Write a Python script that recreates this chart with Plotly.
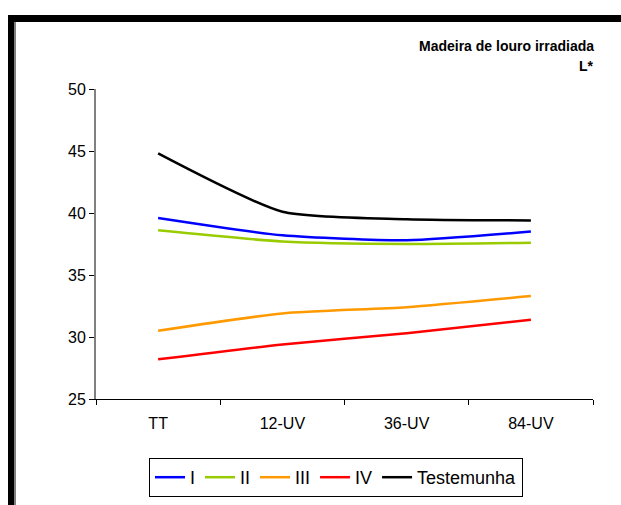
import plotly.graph_objects as go

categories = ["TT", "12-UV", "36-UV", "84-UV"]
serie_I = [39.6, 38.2, 37.8, 38.5]
serie_II = [38.6, 37.7, 37.5, 37.6]
serie_III = [30.5, 31.9, 32.4, 33.3]
serie_IV = [28.2, 29.4, 30.3, 31.4]
testemunha = [44.8, 40.1, 39.5, 39.4]
y_ticks = [25, 30, 35, 40, 45, 50]

names = ["I", "II", "III", "IV", "Testemunha"]
series = [serie_I, serie_II, serie_III, serie_IV, testemunha]
colors = ["#0000FF", "#99CC00", "#FF9900", "#FF0000", "#000000"]

W, H = 621, 505
L, R, T, B = 96, 28, 89, 106
pw, ph = W - L - R, H - T - B

def px_x(x):
    return (x - L) / pw

def px_y(y):
    return (H - B - y) / ph

fig = go.Figure()
for n, s, c in zip(names, series, colors):
    fig.add_trace(go.Scatter(x=categories, y=s, name=n, mode="lines",
                             line=dict(color=c, width=2.5, shape="spline", smoothing=0.6)))

font_family = "Liberation Sans, Arial, sans-serif"
fig.update_layout(
    width=W, height=H,
    margin=dict(l=L, r=R, t=T, b=B, autoexpand=False),
    paper_bgcolor="white", plot_bgcolor="white",
    font=dict(family=font_family, size=16, color="black"),
    showlegend=True,
    legend=dict(orientation="h", x=px_x(336), xanchor="center", y=px_y(458), yanchor="top",
                bordercolor="black", borderwidth=1, font=dict(size=18),
                itemwidth=30, tracegroupgap=0),
    xaxis=dict(type="category", range=[-0.5, 3.5], showgrid=False, showline=True,
               linecolor="black", linewidth=1, ticks="outside", ticklen=5, tickcolor="black",
               tickson="boundaries", tickfont=dict(size=16), zeroline=False,
               ticklabelstandoff=10),
    yaxis=dict(range=[25, 50], tickvals=y_ticks, showgrid=False, showline=True,
               linecolor="#808080", linewidth=2, ticks="outside", ticklen=5, tickcolor="black",
               tickfont=dict(size=16), zeroline=False),
    annotations=[
        dict(text="<b>Madeira de louro irradiada</b>", xref="paper", yref="paper",
             x=1, y=px_y(46), xanchor="right", yanchor="middle", showarrow=False, xshift=3,
             font=dict(size=14, family=font_family)),
        dict(text="<b>L*</b>", xref="paper", yref="paper",
             x=1, y=px_y(66), xanchor="right", yanchor="middle", showarrow=False, xshift=3,
             font=dict(size=14, family=font_family)),
    ],
    shapes=[
        dict(type="rect", xref="paper", yref="paper", x0=px_x(8), x1=px_x(621),
             y0=px_y(15), y1=px_y(22), fillcolor="black", line=dict(width=0)),
        dict(type="rect", xref="paper", yref="paper", x0=px_x(8), x1=px_x(14),
             y0=px_y(15), y1=px_y(505), fillcolor="black", line=dict(width=0)),
        dict(type="rect", xref="paper", yref="paper", x0=px_x(14), x1=px_x(16),
             y0=px_y(22), y1=px_y(505), fillcolor="#808080", line=dict(width=0)),
    ],
)

fig.write_html("out.html", config={"displayModeBar": False},
               post_script="document.body.style.margin='0px';")
